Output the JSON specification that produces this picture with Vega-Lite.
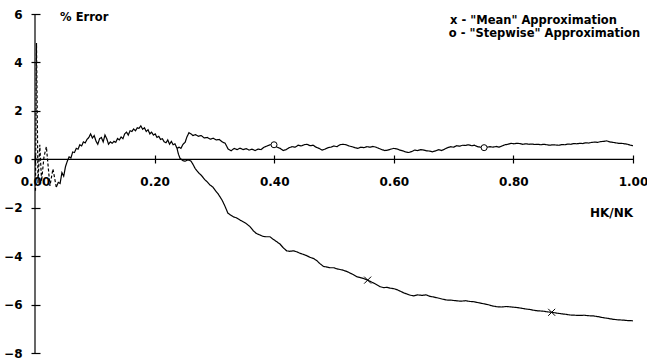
{
  "$schema": "https://vega.github.io/schema/vega-lite/v6.json",
  "width": 598,
  "height": 339,
  "autosize": {"type": "none"},
  "padding": {"left": 35, "top": 14, "right": 14, "bottom": 9},
  "background": "white",
  "config": {
    "view": {"stroke": null},
    "font": "DejaVu Sans",
    "axis": {"labelFont": "DejaVu Sans", "labelFontWeight": "bold", "labelFontSize": 12, "labelColor": "black", "tickColor": "black", "tickWidth": 1.2, "grid": false, "domain": false, "title": null}
  },
  "datasets": {
    "one": [{}],
    "curves": [
      {"s":"d","x":0.0008,"y":-1.3},{"s":"d","x":0.0025,"y":4.8},{"s":"d","x":0.005,"y":-1.0},{"s":"d","x":0.008,"y":0.6},{"s":"d","x":0.011,"y":-0.9},{"s":"d","x":0.015,"y":0.1},{"s":"d","x":0.019,"y":0.52},{"s":"d","x":0.025,"y":-1.1},{"s":"d","x":0.030,"y":-0.4},{"s":"d","x":0.0356,"y":-1.15},
      {"s":"c","x":0.0356,"y":-1.15},{"s":"c","x":0.039,"y":-0.95},{"s":"c","x":0.042,"y":-1.0},{"s":"c","x":0.045,"y":-0.55},{"s":"c","x":0.048,"y":-0.7},{"s":"c","x":0.051,"y":-0.3},{"s":"c","x":0.054,"y":-0.08},{"s":"c","x":0.057,"y":0.1},{"s":"c","x":0.060,"y":0.05},{"s":"c","x":0.063,"y":0.3},{"s":"c","x":0.066,"y":0.28},{"s":"c","x":0.069,"y":0.45},{"s":"c","x":0.072,"y":0.42},{"s":"c","x":0.075,"y":0.6},{"s":"c","x":0.078,"y":0.55},{"s":"c","x":0.081,"y":0.72},{"s":"c","x":0.084,"y":0.68},{"s":"c","x":0.087,"y":0.82},{"s":"c","x":0.090,"y":0.9},{"s":"c","x":0.093,"y":1.05},{"s":"c","x":0.096,"y":0.88},{"s":"c","x":0.099,"y":0.98},{"s":"c","x":0.102,"y":0.75},{"s":"c","x":0.105,"y":0.62},{"s":"c","x":0.108,"y":0.85},{"s":"c","x":0.111,"y":0.9},{"s":"c","x":0.114,"y":0.72},{"s":"c","x":0.117,"y":1.0},{"s":"c","x":0.120,"y":0.85},{"s":"c","x":0.123,"y":0.62},{"s":"c","x":0.126,"y":0.72},{"s":"c","x":0.129,"y":0.66},{"s":"c","x":0.132,"y":0.74},{"s":"c","x":0.135,"y":0.7},{"s":"c","x":0.138,"y":0.86},{"s":"c","x":0.141,"y":0.8},{"s":"c","x":0.144,"y":0.92},{"s":"c","x":0.147,"y":0.85},{"s":"c","x":0.150,"y":1.05},{"s":"c","x":0.153,"y":1.12},{"s":"c","x":0.156,"y":1.0},{"s":"c","x":0.159,"y":1.18},{"s":"c","x":0.162,"y":1.15},{"s":"c","x":0.165,"y":1.25},{"s":"c","x":0.168,"y":1.18},{"s":"c","x":0.171,"y":1.3},{"s":"c","x":0.174,"y":1.28},{"s":"c","x":0.177,"y":1.38},{"s":"c","x":0.180,"y":1.24},{"s":"c","x":0.183,"y":1.3},{"s":"c","x":0.186,"y":1.15},{"s":"c","x":0.189,"y":1.22},{"s":"c","x":0.192,"y":1.05},{"s":"c","x":0.195,"y":1.12},{"s":"c","x":0.198,"y":1.0},{"s":"c","x":0.201,"y":1.05},{"s":"c","x":0.204,"y":0.9},{"s":"c","x":0.207,"y":0.95},{"s":"c","x":0.210,"y":0.82},{"s":"c","x":0.213,"y":0.85},{"s":"c","x":0.216,"y":0.72},{"s":"c","x":0.219,"y":0.68},{"s":"c","x":0.222,"y":0.8},{"s":"c","x":0.225,"y":0.62},{"s":"c","x":0.228,"y":0.74},{"s":"c","x":0.231,"y":0.6},{"s":"c","x":0.234,"y":0.64},{"s":"c","x":0.2375,"y":0.45},
      {"s":"st","x":0.2375,"y":0.45},{"s":"st","x":0.241,"y":0.5},{"s":"st","x":0.244,"y":0.45},{"s":"st","x":0.2475,"y":0.62},{"s":"st","x":0.251,"y":0.7},{"s":"st","x":0.254,"y":0.92},{"s":"st","x":0.2575,"y":1.1},{"s":"st","x":0.261,"y":1.05},{"s":"st","x":0.264,"y":0.98},{"s":"st","x":0.268,"y":1.02},{"s":"st","x":0.273,"y":0.95},{"s":"st","x":0.278,"y":0.98},{"s":"st","x":0.283,"y":0.88},{"s":"st","x":0.288,"y":0.9},{"s":"st","x":0.293,"y":0.83},{"s":"st","x":0.298,"y":0.87},{"s":"st","x":0.303,"y":0.8},{"s":"st","x":0.308,"y":0.82},{"s":"st","x":0.313,"y":0.72},{"s":"st","x":0.318,"y":0.66},{"s":"st","x":0.323,"y":0.42},{"s":"st","x":0.328,"y":0.35},{"s":"st","x":0.333,"y":0.45},{"s":"st","x":0.338,"y":0.4},{"s":"st","x":0.343,"y":0.46},{"s":"st","x":0.348,"y":0.4},{"s":"st","x":0.353,"y":0.44},{"s":"st","x":0.358,"y":0.38},{"s":"st","x":0.363,"y":0.42},{"s":"st","x":0.368,"y":0.36},{"s":"st","x":0.373,"y":0.42},{"s":"st","x":0.378,"y":0.4},{"s":"st","x":0.383,"y":0.5},{"s":"st","x":0.388,"y":0.55},{"s":"st","x":0.393,"y":0.6},{"s":"st","x":0.3997,"y":0.6},{"s":"st","x":0.405,"y":0.5},{"s":"st","x":0.41,"y":0.45},{"s":"st","x":0.415,"y":0.36},{"s":"st","x":0.42,"y":0.4},{"s":"st","x":0.425,"y":0.48},{"s":"st","x":0.43,"y":0.52},{"s":"st","x":0.435,"y":0.5},{"s":"st","x":0.44,"y":0.58},{"s":"st","x":0.445,"y":0.55},{"s":"st","x":0.45,"y":0.6},{"s":"st","x":0.455,"y":0.62},{"s":"st","x":0.46,"y":0.56},{"s":"st","x":0.465,"y":0.58},{"s":"st","x":0.47,"y":0.5},{"s":"st","x":0.475,"y":0.45},{"s":"st","x":0.48,"y":0.38},{"s":"st","x":0.485,"y":0.42},{"s":"st","x":0.49,"y":0.48},{"s":"st","x":0.495,"y":0.5},{"s":"st","x":0.50,"y":0.55},{"s":"st","x":0.505,"y":0.52},{"s":"st","x":0.51,"y":0.6},{"s":"st","x":0.515,"y":0.62},{"s":"st","x":0.52,"y":0.6},{"s":"st","x":0.525,"y":0.55},{"s":"st","x":0.53,"y":0.52},{"s":"st","x":0.535,"y":0.48},{"s":"st","x":0.54,"y":0.45},{"s":"st","x":0.545,"y":0.5},{"s":"st","x":0.55,"y":0.48},{"s":"st","x":0.555,"y":0.52},{"s":"st","x":0.56,"y":0.5},{"s":"st","x":0.565,"y":0.53},{"s":"st","x":0.57,"y":0.5},{"s":"st","x":0.575,"y":0.45},{"s":"st","x":0.58,"y":0.4},{"s":"st","x":0.585,"y":0.36},{"s":"st","x":0.59,"y":0.38},{"s":"st","x":0.595,"y":0.42},{"s":"st","x":0.60,"y":0.45},{"s":"st","x":0.605,"y":0.43},{"s":"st","x":0.61,"y":0.38},{"s":"st","x":0.615,"y":0.35},{"s":"st","x":0.62,"y":0.3},{"s":"st","x":0.625,"y":0.28},{"s":"st","x":0.63,"y":0.32},{"s":"st","x":0.635,"y":0.38},{"s":"st","x":0.64,"y":0.36},{"s":"st","x":0.645,"y":0.4},{"s":"st","x":0.65,"y":0.38},{"s":"st","x":0.655,"y":0.35},{"s":"st","x":0.66,"y":0.34},{"s":"st","x":0.665,"y":0.31},{"s":"st","x":0.67,"y":0.35},{"s":"st","x":0.675,"y":0.4},{"s":"st","x":0.68,"y":0.36},{"s":"st","x":0.685,"y":0.42},{"s":"st","x":0.69,"y":0.48},{"s":"st","x":0.695,"y":0.52},{"s":"st","x":0.70,"y":0.5},{"s":"st","x":0.705,"y":0.56},{"s":"st","x":0.71,"y":0.54},{"s":"st","x":0.715,"y":0.58},{"s":"st","x":0.72,"y":0.57},{"s":"st","x":0.725,"y":0.6},{"s":"st","x":0.73,"y":0.56},{"s":"st","x":0.735,"y":0.58},{"s":"st","x":0.74,"y":0.52},{"s":"st","x":0.745,"y":0.5},{"s":"st","x":0.751,"y":0.48},{"s":"st","x":0.756,"y":0.5},{"s":"st","x":0.761,"y":0.52},{"s":"st","x":0.766,"y":0.5},{"s":"st","x":0.771,"y":0.53},{"s":"st","x":0.776,"y":0.5},{"s":"st","x":0.781,"y":0.55},{"s":"st","x":0.786,"y":0.6},{"s":"st","x":0.791,"y":0.62},{"s":"st","x":0.796,"y":0.66},{"s":"st","x":0.801,"y":0.64},{"s":"st","x":0.806,"y":0.66},{"s":"st","x":0.811,"y":0.65},{"s":"st","x":0.816,"y":0.62},{"s":"st","x":0.821,"y":0.64},{"s":"st","x":0.826,"y":0.62},{"s":"st","x":0.831,"y":0.63},{"s":"st","x":0.836,"y":0.61},{"s":"st","x":0.841,"y":0.62},{"s":"st","x":0.846,"y":0.6},{"s":"st","x":0.851,"y":0.62},{"s":"st","x":0.856,"y":0.6},{"s":"st","x":0.861,"y":0.58},{"s":"st","x":0.866,"y":0.6},{"s":"st","x":0.871,"y":0.59},{"s":"st","x":0.876,"y":0.58},{"s":"st","x":0.881,"y":0.61},{"s":"st","x":0.886,"y":0.6},{"s":"st","x":0.891,"y":0.63},{"s":"st","x":0.896,"y":0.62},{"s":"st","x":0.901,"y":0.65},{"s":"st","x":0.906,"y":0.64},{"s":"st","x":0.911,"y":0.66},{"s":"st","x":0.916,"y":0.65},{"s":"st","x":0.921,"y":0.68},{"s":"st","x":0.926,"y":0.67},{"s":"st","x":0.931,"y":0.7},{"s":"st","x":0.936,"y":0.71},{"s":"st","x":0.941,"y":0.7},{"s":"st","x":0.946,"y":0.73},{"s":"st","x":0.951,"y":0.74},{"s":"st","x":0.956,"y":0.76},{"s":"st","x":0.961,"y":0.72},{"s":"st","x":0.966,"y":0.7},{"s":"st","x":0.971,"y":0.68},{"s":"st","x":0.976,"y":0.66},{"s":"st","x":0.981,"y":0.66},{"s":"st","x":0.986,"y":0.64},{"s":"st","x":0.991,"y":0.62},{"s":"st","x":0.996,"y":0.58},{"s":"st","x":1.0,"y":0.56},
      {"s":"m","x":0.2375,"y":0.45},{"s":"m","x":0.240,"y":0.2},{"s":"m","x":0.2425,"y":0.04},{"s":"m","x":0.2475,"y":-0.06},{"s":"m","x":0.251,"y":-0.08},{"s":"m","x":0.254,"y":-0.04},{"s":"m","x":0.2575,"y":-0.03},{"s":"m","x":0.261,"y":-0.08},{"s":"m","x":0.264,"y":-0.2},{"s":"m","x":0.2676,"y":-0.37},{"s":"m","x":0.271,"y":-0.48},{"s":"m","x":0.2743,"y":-0.58},{"s":"m","x":0.2776,"y":-0.65},{"s":"m","x":0.281,"y":-0.75},{"s":"m","x":0.2843,"y":-0.85},{"s":"m","x":0.2876,"y":-0.92},{"s":"m","x":0.2926,"y":-1.06},{"s":"m","x":0.2976,"y":-1.15},{"s":"m","x":0.301,"y":-1.27},{"s":"m","x":0.306,"y":-1.42},{"s":"m","x":0.3127,"y":-1.68},{"s":"m","x":0.317,"y":-1.9},{"s":"m","x":0.3227,"y":-2.23},{"s":"m","x":0.327,"y":-2.3},{"s":"m","x":0.332,"y":-2.38},{"s":"m","x":0.337,"y":-2.42},{"s":"m","x":0.3428,"y":-2.51},{"s":"m","x":0.348,"y":-2.58},{"s":"m","x":0.353,"y":-2.65},{"s":"m","x":0.3595,"y":-2.78},{"s":"m","x":0.365,"y":-2.95},{"s":"m","x":0.370,"y":-3.06},{"s":"m","x":0.3763,"y":-3.13},{"s":"m","x":0.381,"y":-3.18},{"s":"m","x":0.386,"y":-3.2},{"s":"m","x":0.393,"y":-3.2},{"s":"m","x":0.398,"y":-3.3},{"s":"m","x":0.404,"y":-3.4},{"s":"m","x":0.4097,"y":-3.5},{"s":"m","x":0.415,"y":-3.65},{"s":"m","x":0.4209,"y":-3.78},{"s":"m","x":0.426,"y":-3.8},{"s":"m","x":0.432,"y":-3.78},{"s":"m","x":0.4376,"y":-3.82},{"s":"m","x":0.443,"y":-3.88},{"s":"m","x":0.448,"y":-3.92},{"s":"m","x":0.4543,"y":-3.98},{"s":"m","x":0.46,"y":-4.05},{"s":"m","x":0.466,"y":-4.1},{"s":"m","x":0.4711,"y":-4.18},{"s":"m","x":0.476,"y":-4.3},{"s":"m","x":0.4821,"y":-4.42},{"s":"m","x":0.488,"y":-4.45},{"s":"m","x":0.494,"y":-4.48},{"s":"m","x":0.4995,"y":-4.48},{"s":"m","x":0.5045,"y":-4.52},{"s":"m","x":0.51,"y":-4.55},{"s":"m","x":0.515,"y":-4.58},{"s":"m","x":0.5212,"y":-4.63},{"s":"m","x":0.527,"y":-4.7},{"s":"m","x":0.532,"y":-4.76},{"s":"m","x":0.538,"y":-4.85},{"s":"m","x":0.543,"y":-4.88},{"s":"m","x":0.549,"y":-4.92},{"s":"m","x":0.5563,"y":-4.99},{"s":"m","x":0.562,"y":-5.06},{"s":"m","x":0.567,"y":-5.12},{"s":"m","x":0.5769,"y":-5.26},{"s":"m","x":0.583,"y":-5.3},{"s":"m","x":0.589,"y":-5.29},{"s":"m","x":0.594,"y":-5.32},{"s":"m","x":0.5992,"y":-5.34},{"s":"m","x":0.605,"y":-5.38},{"s":"m","x":0.611,"y":-5.45},{"s":"m","x":0.617,"y":-5.52},{"s":"m","x":0.6271,"y":-5.61},{"s":"m","x":0.633,"y":-5.64},{"s":"m","x":0.64,"y":-5.6},{"s":"m","x":0.647,"y":-5.62},{"s":"m","x":0.654,"y":-5.6},{"s":"m","x":0.6605,"y":-5.66},{"s":"m","x":0.6689,"y":-5.7},{"s":"m","x":0.676,"y":-5.74},{"s":"m","x":0.682,"y":-5.78},{"s":"m","x":0.6885,"y":-5.81},{"s":"m","x":0.696,"y":-5.82},{"s":"m","x":0.704,"y":-5.84},{"s":"m","x":0.712,"y":-5.86},{"s":"m","x":0.72,"y":-5.84},{"s":"m","x":0.727,"y":-5.87},{"s":"m","x":0.733,"y":-5.88},{"s":"m","x":0.741,"y":-5.92},{"s":"m","x":0.749,"y":-5.96},{"s":"m","x":0.757,"y":-6.0},{"s":"m","x":0.764,"y":-6.05},{"s":"m","x":0.772,"y":-6.09},{"s":"m","x":0.78,"y":-6.1},{"s":"m","x":0.788,"y":-6.08},{"s":"m","x":0.797,"y":-6.1},{"s":"m","x":0.8055,"y":-6.12},{"s":"m","x":0.813,"y":-6.15},{"s":"m","x":0.82,"y":-6.18},{"s":"m","x":0.827,"y":-6.2},{"s":"m","x":0.8333,"y":-6.23},{"s":"m","x":0.841,"y":-6.26},{"s":"m","x":0.849,"y":-6.27},{"s":"m","x":0.857,"y":-6.3},{"s":"m","x":0.864,"y":-6.32},{"s":"m","x":0.872,"y":-6.35},{"s":"m","x":0.88,"y":-6.38},{"s":"m","x":0.887,"y":-6.4},{"s":"m","x":0.8946,"y":-6.43},{"s":"m","x":0.903,"y":-6.44},{"s":"m","x":0.911,"y":-6.45},{"s":"m","x":0.918,"y":-6.44},{"s":"m","x":0.926,"y":-6.46},{"s":"m","x":0.9337,"y":-6.47},{"s":"m","x":0.942,"y":-6.5},{"s":"m","x":0.95,"y":-6.54},{"s":"m","x":0.958,"y":-6.57},{"s":"m","x":0.9671,"y":-6.61},{"s":"m","x":0.975,"y":-6.63},{"s":"m","x":0.983,"y":-6.64},{"s":"m","x":0.991,"y":-6.66},{"s":"m","x":1.0,"y":-6.67}
    ],
    "markers": [
      {"m":"x","x":0.5563,"y":-4.99},{"m":"x","x":0.864,"y":-6.32},
      {"m":"o","x":0.3997,"y":0.6},{"m":"o","x":0.751,"y":0.48}
    ]
  },
  "layer": [
    {
      "data": {"name": "one"},
      "mark": {"type": "rule", "color": "black", "strokeWidth": 1.2},
      "encoding": {"x": {"datum": 0, "type": "quantitative"}, "x2": {"datum": 1}, "y": {"datum": 0, "type": "quantitative"}}
    },
    {
      "data": {"name": "one"},
      "mark": {"type": "rule", "color": "black", "strokeWidth": 1.2},
      "encoding": {"x": {"datum": 0, "type": "quantitative"}, "y": {"datum": -8, "type": "quantitative"}, "y2": {"datum": 6}}
    },
    {
      "data": {"name": "curves"},
      "mark": {"type": "line", "color": "black", "strokeWidth": 1.2},
      "encoding": {
        "x": {"field": "x", "type": "quantitative",
              "scale": {"domain": [0, 1], "nice": false, "zero": false},
              "axis": {"values": [0, 0.2, 0.4, 0.6, 0.8, 1.0], "format": ".2f", "offset": -198, "tickSize": 8, "labelPadding": 13, "labelFlush": false}},
        "y": {"field": "y", "type": "quantitative",
              "scale": {"domain": [-8, 6], "nice": false, "zero": false},
              "axis": {"values": [-8, -6, -4, -2, 0, 2, 4, 6], "offset": -5, "tickSize": 9, "labelPadding": 9}},
        "detail": {"field": "s"},
        "strokeDash": {"field": "s", "type": "nominal", "legend": null,
                       "scale": {"domain": ["d", "c", "st", "m"], "range": [[3, 2], [1, 0], [1, 0], [1, 0]]}}
      }
    },
    {
      "data": {"name": "markers"},
      "transform": [{"filter": "datum.m === 'o'"}],
      "mark": {"type": "point", "shape": "circle", "filled": true, "fill": "white", "stroke": "black", "strokeWidth": 1, "size": 36, "opacity": 1},
      "encoding": {"x": {"field": "x", "type": "quantitative"}, "y": {"field": "y", "type": "quantitative"}}
    },
    {
      "data": {"name": "markers"},
      "transform": [{"filter": "datum.m === 'x'"}],
      "mark": {"type": "point", "shape": "M-1,-1L1,1M-1,1L1,-1", "filled": false, "stroke": "black", "strokeWidth": 1, "size": 49, "opacity": 1},
      "encoding": {"x": {"field": "x", "type": "quantitative"}, "y": {"field": "y", "type": "quantitative"}}
    },
    {
      "data": {"name": "one"},
      "mark": {"type": "text", "text": "% Error", "align": "left", "baseline": "middle", "font": "DejaVu Sans", "fontWeight": "bold", "fontSize": 11.5, "color": "black"},
      "encoding": {"x": {"datum": 0.042, "type": "quantitative"}, "y": {"datum": 5.83, "type": "quantitative"}}
    },
    {
      "data": {"name": "one"},
      "mark": {"type": "text", "text": "x - \"Mean\" Approximation", "align": "left", "baseline": "middle", "font": "DejaVu Sans", "fontWeight": "bold", "fontSize": 11.5, "color": "black"},
      "encoding": {"x": {"datum": 0.694, "type": "quantitative"}, "y": {"datum": 5.72, "type": "quantitative"}}
    },
    {
      "data": {"name": "one"},
      "mark": {"type": "text", "text": "o - \"Stepwise\" Approximation", "align": "left", "baseline": "middle", "font": "DejaVu Sans", "fontWeight": "bold", "fontSize": 11.5, "color": "black"},
      "encoding": {"x": {"datum": 0.692, "type": "quantitative"}, "y": {"datum": 5.19, "type": "quantitative"}}
    },
    {
      "data": {"name": "one"},
      "mark": {"type": "text", "text": "HK/NK", "align": "right", "baseline": "middle", "font": "DejaVu Sans", "fontWeight": "bold", "fontSize": 12, "color": "black"},
      "encoding": {"x": {"datum": 1.0, "type": "quantitative"}, "y": {"datum": -2.22, "type": "quantitative"}}
    }
  ]
}
